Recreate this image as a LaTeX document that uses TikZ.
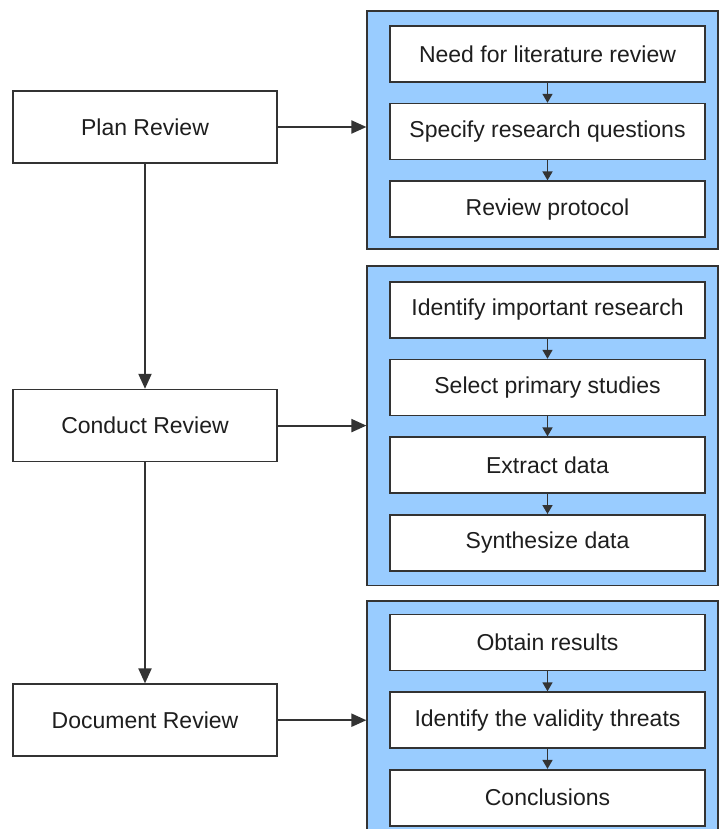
\documentclass[tikz,border=0pt]{standalone}
\usepackage{fontspec}
\setmainfont{Liberation Sans}
\usepackage{tikz}
\usetikzlibrary{arrows.meta,positioning,fit,calc,backgrounds}
\definecolor{PanelBlue}{HTML}{99CCFF}
\definecolor{EdgeGray}{HTML}{333333}
\definecolor{TextDark}{HTML}{1E1E1E}

\begin{document}
\begin{tikzpicture}[
  node distance=10pt,
  stage/.style={draw=EdgeGray,line width=0.8pt,fill=white,minimum width=132pt,
    minimum height=36pt,text=TextDark,font=\fontsize{11.5}{13.5}\selectfont},
  task/.style={draw=EdgeGray,line width=0.8pt,fill=white,minimum width=157.5pt,
    minimum height=28pt,inner sep=0pt,text=TextDark,font=\fontsize{11.5}{13.5}\selectfont},
  panel/.style={draw=EdgeGray,line width=0.8pt,fill=PanelBlue,inner sep=0pt},
  arrow/.style={-{Triangle[length=7.5pt,width=6.5pt]},line width=1pt,color=EdgeGray},
  minor/.style={-{Triangle[length=4.5pt,width=5pt]},line width=0.8pt,color=EdgeGray}
]
  \useasboundingbox (0,0) rectangle (359pt,-414.5pt);

  % left column
  \node[stage] (plan) at (72.5pt,-63.5pt) {Plan Review};
  \node[stage,below=112.5pt of plan] (conduct) {Conduct Review};
  \node[stage,below=110.5pt of conduct] (document) {Document Review};

  % planning tasks
  \node[task] (need) at (273.75pt,-27pt) {Need for literature review};
  \node[task,below=of need] (questions) {Specify research questions};
  \node[task,below=of questions] (protocol) {Review protocol};

  % conducting tasks
  \node[task] (identify) at (273.75pt,-155pt) {Identify important research};
  \node[task,below=of identify] (select) {Select primary studies};
  \node[task,below=of select] (extract) {Extract data};
  \node[task,below=of extract] (synth) {Synthesize data};

  % reporting tasks
  \node[task] (obtain) at (273.75pt,-321.25pt) {Obtain results};
  \node[task,below=of obtain] (threats) {Identify the validity threats};
  \node[task,below=of threats] (concl) {Conclusions};

  \begin{scope}[on background layer]
    \node[panel,fit={($(need.north west)+(-11pt,7pt)$) ($(protocol.south east)+(6pt,-5.5pt)$)}] (panA) {};
    \node[panel,fit={($(identify.north west)+(-11pt,7.5pt)$) ($(synth.south east)+(6pt,-7pt)$)}] (panB) {};
    \node[panel,fit={($(obtain.north west)+(-11pt,6.5pt)$) ($(concl.south east)+(6pt,-12pt)$)}] (panC) {};
  \end{scope}

  \draw[arrow] (plan) -- (conduct);
  \draw[arrow] (conduct) -- (document);
  \draw[arrow] (plan.east) -- (plan.east -| panA.west);
  \draw[arrow] (conduct.east) -- (conduct.east -| panB.west);
  \draw[arrow] (document.east) -- (document.east -| panC.west);

  \draw[minor] (need) -- (questions);
  \draw[minor] (questions) -- (protocol);
  \draw[minor] (identify) -- (select);
  \draw[minor] (select) -- (extract);
  \draw[minor] (extract) -- (synth);
  \draw[minor] (obtain) -- (threats);
  \draw[minor] (threats) -- (concl);
\end{tikzpicture}
\end{document}
